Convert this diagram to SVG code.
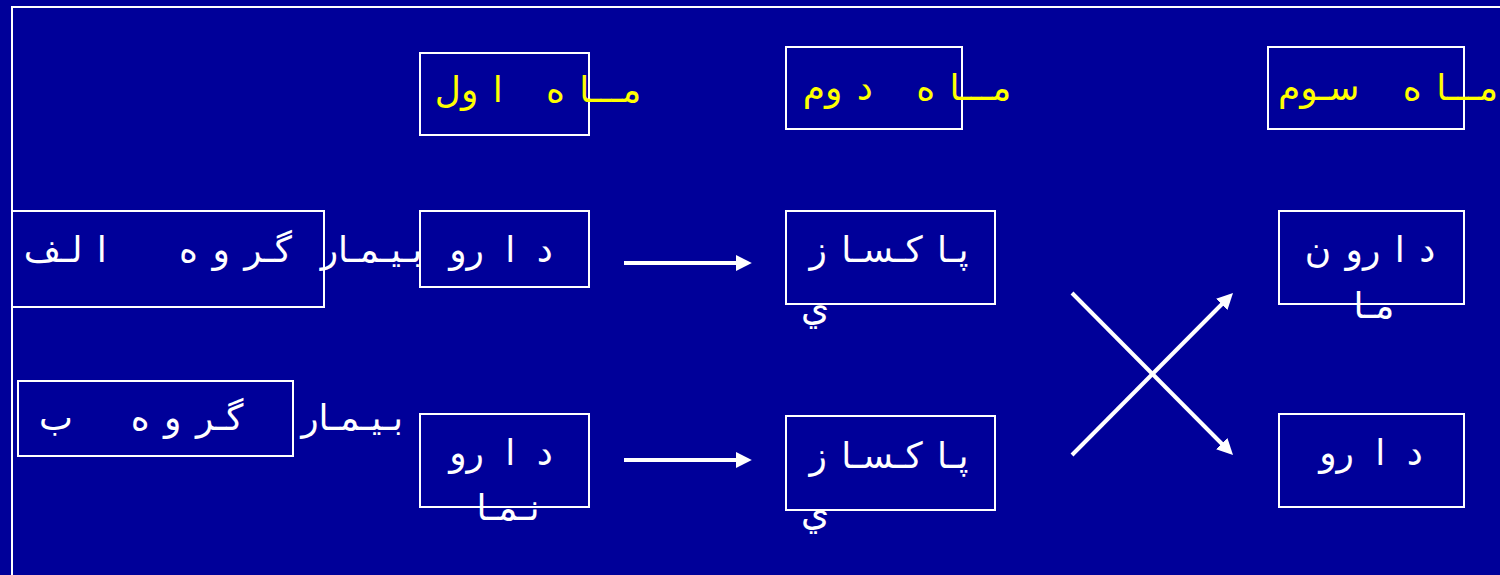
<svg xmlns="http://www.w3.org/2000/svg" width="1500" height="575" viewBox="0 0 1500 575" xml:space="preserve">
  <style>
    .box { fill: none; stroke: #ffffff; stroke-width: 2; }
    .frame { fill: none; stroke: #ffffff; stroke-width: 2; }
    .lbl { font-family: "DejaVu Sans", sans-serif; font-size: 36px; fill: #ffffff; text-anchor: middle; white-space: pre; word-spacing: 3px; }
    .wide { word-spacing: 10px; }
    .month { fill: #ffff00; }
    .conn { fill: none; stroke: #ffffff; stroke-width: 4; marker-end: url(#head); }
  </style>
  <defs>
    <marker id="head" viewBox="0 0 10 10" refX="2" refY="5" markerWidth="4" markerHeight="4" orient="auto" markerUnits="strokeWidth">
      <path d="M0,0 L10,5 L0,10 Z" fill="#ffffff"/>
    </marker>
  </defs>

  <rect x="0" y="0" width="1500" height="575" fill="#000099"/>
  <path class="frame" d="M12,575 L12,7 L1500,7"/>

  <!-- month headers -->
  <g id="month1">
    <rect class="box" x="420" y="53" width="169" height="82"/>
    <text class="lbl month" x="538" y="102">مـــا ه   ا ول</text>
  </g>
  <g id="month2">
    <rect class="box" x="786" y="47" width="176" height="82"/>
    <text class="lbl month" x="907" y="100">مـــا ه   د وم</text>
  </g>
  <g id="month3">
    <rect class="box" x="1268" y="47" width="196" height="82"/>
    <text class="lbl month" x="1388" y="100">مـــا ه   سـوم</text>
  </g>

  <!-- group A row -->
  <g id="groupA">
    <rect class="box" x="12" y="211" width="312" height="96"/>
    <text class="lbl" x="223" y="262">بـيـمـار  گـر و ه     ا لـف</text>
  </g>
  <g id="drugA1">
    <rect class="box" x="420" y="211" width="169" height="76"/>
    <text class="lbl wide" x="501" y="262">د ا رو</text>
  </g>
  <g id="placeboA2">
    <rect class="box" x="786" y="211" width="209" height="93"/>
    <text class="lbl" x="889" y="262">پـا کـسـا ز</text>
    <text class="lbl" x="815" y="320">ي</text>
  </g>
  <g id="placeboA3">
    <rect class="box" x="1279" y="211" width="185" height="93"/>
    <text class="lbl" x="1370" y="262">د ا رو ن</text>
    <text class="lbl" x="1374" y="318">مـا</text>
  </g>

  <!-- group B row -->
  <g id="groupB">
    <rect class="box" x="18" y="381" width="275" height="75"/>
    <text class="lbl" x="221" y="430">بـيـمـار    گـر و ه    ب</text>
  </g>
  <g id="placeboB1">
    <rect class="box" x="420" y="414" width="169" height="93"/>
    <text class="lbl wide" x="501" y="465">د ا رو</text>
    <text class="lbl" x="508" y="520">نـمـا</text>
  </g>
  <g id="placeboB2">
    <rect class="box" x="786" y="416" width="209" height="94"/>
    <text class="lbl" x="889" y="468">پـا کـسـا ز</text>
    <text class="lbl" x="815" y="525">ي</text>
  </g>
  <g id="drugB3">
    <rect class="box" x="1279" y="414" width="185" height="93"/>
    <text class="lbl wide" x="1371" y="465">د ا رو</text>
  </g>

  <!-- connectors -->
  <g id="connectors">
    <line class="conn" x1="624" y1="263" x2="739" y2="263"/>
    <line class="conn" x1="624" y1="460" x2="739" y2="460"/>
    <line class="conn" x1="1072" y1="293" x2="1224" y2="446"/>
    <line class="conn" x1="1072" y1="455" x2="1224" y2="302"/>
  </g>
</svg>
